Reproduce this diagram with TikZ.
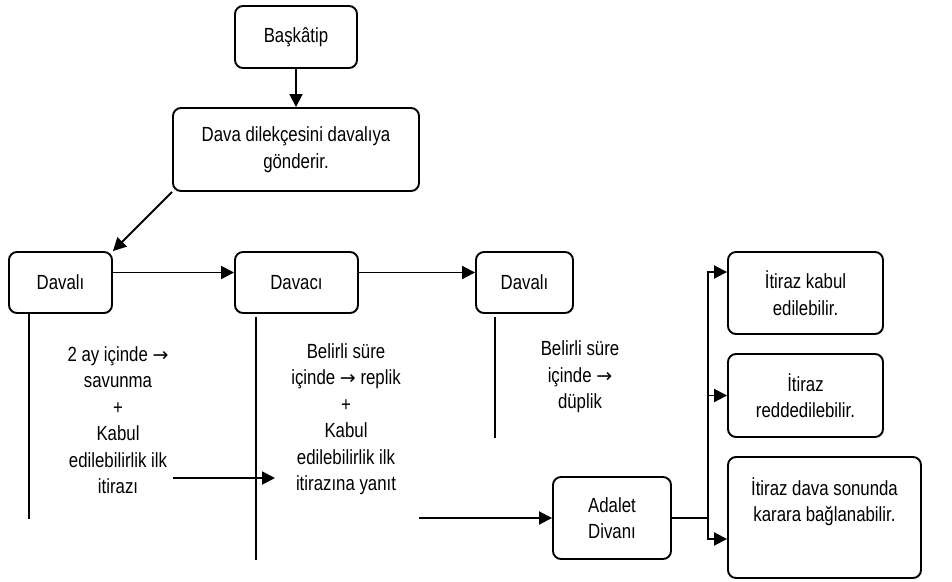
\documentclass[tikz,border=0pt]{standalone}
\usepackage{fontspec}
\setmainfont[FakeStretch=0.82]{Liberation Sans}
\newfontfamily\arrowfont{DejaVu Sans}
\newcommand{\sagok}{{\arrowfont\fontsize{19}{20}\selectfont →}}
\usepackage{tikz}
\usetikzlibrary{arrows.meta}

\begin{document}
\begin{tikzpicture}[x=1pt,y=-1pt,line width=1.9pt,
    font=\fontsize{20.5}{26.5}\selectfont,
    box/.style={draw,rectangle,rounded corners=8pt,align=center,inner sep=0pt},
    note/.style={align=center,inner sep=0pt},
    arr/.style={-{Triangle[length=13pt,width=13pt]}}]
      \useasboundingbox (0,0) rectangle (952,581);

      \node [box,minimum width=122pt,minimum height=62pt] (baskatip) at (296,37) {Başkâtip};
      \node [box,minimum width=246pt,minimum height=83pt] (dilekce) at (296,149.5) {Dava dilekçesini davalıya\\gönderir.};

      \node [box,minimum width=103pt,minimum height=61pt] (davali1) at (60.5,282.5) {Davalı};
      \node [box,minimum width=123pt,minimum height=61pt] (davaci) at (296.5,282.5) {Davacı};
      \node [box,minimum width=97pt,minimum height=61pt] (davali2) at (524.5,282.5) {Davalı};

      \node [note] (savunma) at (118,420) {2 ay içinde \sagok\\savunma\\+\\Kabul\\edilebilirlik ilk\\itirazı};
      \node [note] (replik) at (346,419) {Belirli süre\\içinde \sagok{} replik\\+\\Kabul\\edilebilirlik ilk\\itirazına yanıt};
      \node [note] (duplik) at (580,377) {Belirli süre\\içinde \sagok\\düplik};

      \node [box,minimum width=118pt,minimum height=82pt] (divan) at (612,518) {Adalet\\Divanı};
      \node [box,minimum width=155pt,minimum height=82pt] (kabul) at (805.5,293) {İtiraz kabul\\edilebilir.};
      \node [box,minimum width=155pt,minimum height=83pt] (red) at (805.5,395.5) {İtiraz\\reddedilebilir.};
      \node [box,minimum width=193pt,minimum height=121pt] (sonunda) at (824.5,517.5) {%
        \parbox[c][80pt][t]{180pt}{\centering İtiraz dava sonunda\\karara bağlanabilir.}};

      \coordinate (fromdavali) at (173,478);
      \coordinate (todavaci) at (275,478);
      \coordinate (fromdavaci) at (419,518);
      \coordinate (split) at (708,518);

      \draw [arr] (baskatip) -- (dilekce);
      \draw [arr] (dilekce.south west) -- (davali1.north east);
      \draw [arr] ([yshift=10pt]davali1.east) -- ([yshift=10pt]davaci.west);
      \draw [arr] ([yshift=10pt]davaci.east) -- ([yshift=10pt]davali2.west);

      \draw ([xshift=21pt]davali1.south west) -- ++(0,205);
      \draw ([xshift=22pt,yshift=-3pt]davaci.south west) -- ++(0,243);
      \draw ([xshift=20pt,yshift=-3pt]davali2.south west) -- ++(0,121);

      \draw [arr] (fromdavali) -- (todavaci);
      \draw [arr] (fromdavaci) -- (divan);
      \draw (divan.east) -- (split);
      \draw [arr] (split) |- ([yshift=21pt]kabul.west);
      \draw [arr] (split) |- (red.west);
      \draw [arr] (split) |- ([yshift=-21.5pt]sonunda.west);
    \end{tikzpicture}
\end{document}
